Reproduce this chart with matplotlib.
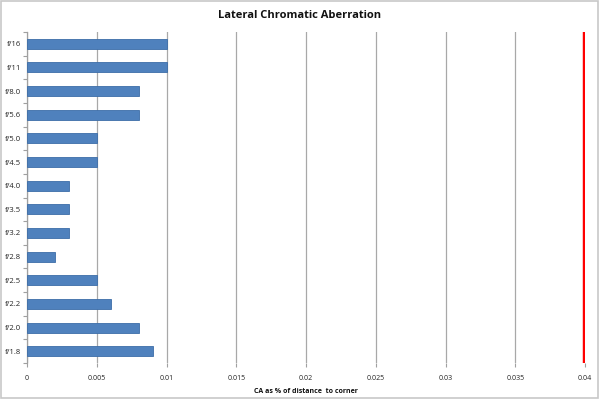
import matplotlib
matplotlib.use("Agg")
import matplotlib.pyplot as plt
import numpy as np
from matplotlib.patches import Rectangle

categories = ["f/1.8", "f/2.0", "f/2.2", "f/2.5", "f/2.8", "f/3.2", "f/3.5",
              "f/4.0", "f/4.5", "f/5.0", "f/5.6", "f/8.0", "f/11", "f/16"]
values = [0.009, 0.008, 0.006, 0.005, 0.002, 0.003, 0.003,
          0.003, 0.005, 0.005, 0.008, 0.008, 0.010, 0.010]
xticks = [0, 0.005, 0.01, 0.015, 0.02, 0.025, 0.03, 0.035, 0.04]
xticklabels = ["0", "0.005", "0.01", "0.015", "0.02", "0.025", "0.03", "0.035", "0.04"]
limit = 0.04

plt.rcParams['font.family'] = ['Open Sans', 'DejaVu Sans']

fig = plt.figure(figsize=(6, 3.99), dpi=100)
ax = fig.add_axes([27/600, 1-363/399, (585-27)/600, (363-32)/399])

y = np.arange(len(categories))
ax.barh(y, values, height=0.42, color="#4F81BD", edgecolor="#3C6DA8", linewidth=0.6, zorder=3)
ax.axvline(limit, color="#FF0000", lw=3.2, zorder=4)

ax.set_xlim(0, 0.04)
ax.set_ylim(-0.5, len(categories) - 0.5)
ax.set_xticks(xticks)
ax.set_xticklabels(xticklabels, fontsize=5, color="#222222")
ax.set_yticks(y)
ax.set_yticklabels(categories, fontsize=5.5, color="#222222")
ax.set_yticks(np.arange(-0.5, len(categories), 1), minor=True)
ax.tick_params(axis='y', which='major', length=0, pad=4)
ax.tick_params(axis='y', which='minor', length=3, color="#A0A0A0", width=0.8, direction='out')
ax.tick_params(axis='x', length=3, color="#A0A0A0", width=0.8, pad=6)
ax.grid(axis='x', color="#A8A8A8", lw=0.9, zorder=0)

for s in ['top', 'right', 'bottom']:
    ax.spines[s].set_visible(False)
ax.spines['left'].set_color("#A0A0A0")
ax.spines['left'].set_linewidth(0.9)

ax.set_xlabel("CA as % of distance  to corner", fontsize=5, fontweight='bold', labelpad=4, color="#111111")
fig.text(0.5, 1-16/399, "Lateral Chromatic Aberration", ha='center', va='center',
         fontsize=8, fontweight='bold', color="#111111")

fig.patches.append(Rectangle((0.002, 0.003), 0.995, 0.994, transform=fig.transFigure,
                             fill=False, edgecolor="#C8C8C8", lw=1.2))

fig.savefig("out.png", dpi=100)
